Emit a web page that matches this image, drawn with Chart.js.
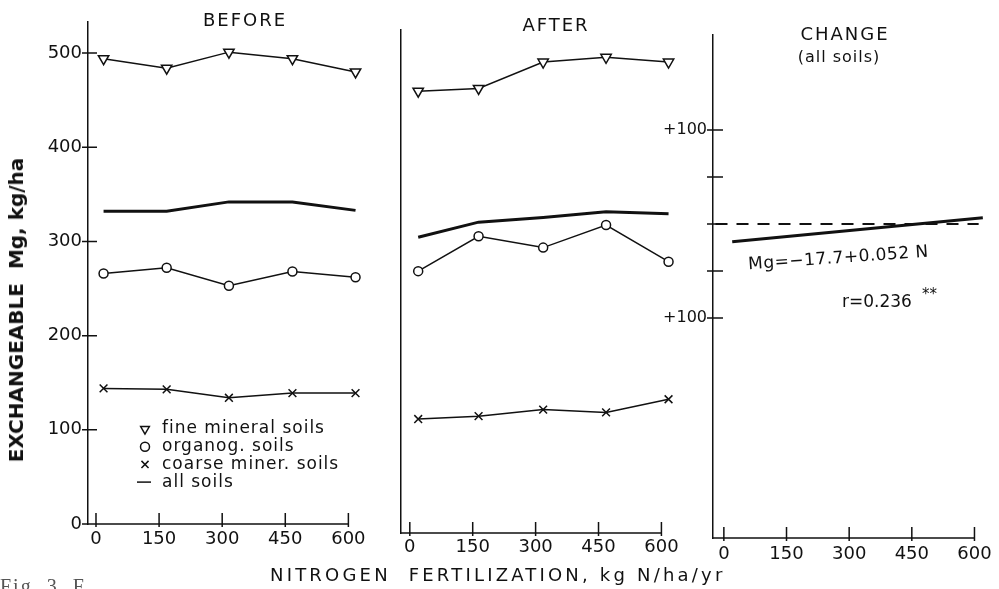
<!DOCTYPE html>
<html>
<head>
<meta charset="utf-8">
<script src="https://cdn.jsdelivr.net/npm/chart.js@4.4.0/dist/chart.umd.min.js"></script>
<style>
html, body { margin: 0; padding: 0; background: #fff; }
#fig { position: relative; width: 999px; height: 589px; overflow: hidden; background: #fff;
  font-family: "DejaVu Sans", sans-serif; color: #111; }
#fig canvas { position: absolute; left: 0; top: 0; }
.lbl { position: absolute; white-space: nowrap; line-height: 1; }
.c { transform: translate(-50%, -50%); }
</style>
</head>
<body>
<div id="fig">
	<canvas id="before" width="999" height="589"></canvas>
	<canvas id="after" width="999" height="589"></canvas>
	<canvas id="change" width="999" height="589"></canvas>

	<div class="lbl c" style="left:245px;top:20px;font-size:18px;letter-spacing:2px">BEFORE</div>
	<div class="lbl c" style="left:556px;top:25px;font-size:18px;letter-spacing:2px">AFTER</div>
	<div class="lbl c" style="left:845px;top:34px;font-size:18px;letter-spacing:2px">CHANGE</div>
	<div class="lbl c" style="left:839px;top:57px;font-size:16px;letter-spacing:1px">(all soils)</div>

	<div class="lbl" style="left:16px;top:310px;font-size:20px;font-weight:bold;transform:translate(-50%,-50%) rotate(-90deg)">EXCHANGEABLE&nbsp;&nbsp;Mg, kg/ha</div>
	<div class="lbl" style="left:270px;top:566px;font-size:18px;letter-spacing:3.2px">NITROGEN&nbsp;&nbsp;FERTILIZATION, kg N/ha/yr</div>

	<div class="lbl" style="left:748px;top:249px;font-size:17px;letter-spacing:0.5px;transform:rotate(-4deg)">Mg=−17.7+0.052 N</div>
	<div class="lbl" style="left:842px;top:293px;font-size:17px">r=0.236<span style="font-size:15px;margin-left:10px;position:relative;top:-8px">**</span></div>

	<div class="lbl" style="left:0px;top:576px;font-family:'Liberation Serif',serif;font-size:20px;letter-spacing:2px;color:#555">Fig. 3. F</div>
</div>

<script>
// nitrogen rates as plotted, kg N/ha/yr
const nBefore = [18, 168, 316, 467, 617]
const nAfter = [20, 164, 318, 468, 617]
const nTicks = [0, 150, 300, 450, 600]

// exchangeable Mg, kg/ha - before
const fineBefore = [494, 484, 501, 494, 480]
const organBefore = [266, 272, 253, 268, 262]
const coarseBefore = [144, 143, 134, 139, 139]
const allBefore = [332, 332, 342, 342, 333]

// exchangeable Mg, kg/ha - after
const fineAfter = [469, 472, 500, 505, 500]
const organAfter = [278, 315, 303, 327, 288]
const coarseAfter = [121, 124, 131, 128, 142]
const allAfter = [314, 330, 335, 341, 339]

// change, all soils: fitted line and zero reference
const nFit = [20, 620]
const changeFit = [-19, 6.5]
const nZero = [-20, 610]
const zeroLine = [0, 0]

const mgTicks = [0, 100, 200, 300, 400, 500]
const changeTicks = [-100, -50, 0, 50, 100]
const changeTickLabels = ['+100', '', '', '', '+100']
const legendLabels = ['fine mineral soils', 'organog. soils', 'coarse miner. soils', 'all soils']

const ink = '#111'

function pts(xs, ys) {
	return xs.map((x, i) => ({ x: x, y: ys[i] }))
}

function series(xs, ys, style) {
	return Object.assign({
		data: pts(xs, ys),
		borderColor: ink,
		borderWidth: 1.5,
		backgroundColor: '#fff',
		pointBorderColor: ink,
		pointBackgroundColor: '#fff',
		pointBorderWidth: 1.5,
		tension: 0,
		clip: false,
	}, style)
}

// x axis line stopping at the last tick, and tick marks crossing the axes
const crossTicks = {
	id: 'crossTicks',
	afterDraw(chart, args, o) {
		const { ctx, chartArea, scales } = chart
		const xs = scales.x
		const last = nTicks[nTicks.length - 1]
		ctx.save()
		ctx.strokeStyle = ink
		ctx.lineWidth = 1.5
		ctx.beginPath()
		ctx.moveTo(chartArea.left - 1, chartArea.bottom)
		ctx.lineTo(xs.getPixelForValue(last), chartArea.bottom)
		if (o.y) {
			scales.y.ticks.forEach(t => {
				const py = scales.y.getPixelForValue(t.value)
				ctx.moveTo(chartArea.left - o.y[0], py)
				ctx.lineTo(chartArea.left + o.y[1], py)
			})
		}
		xs.ticks.forEach(t => {
			const px = xs.getPixelForValue(t.value)
			ctx.moveTo(px, chartArea.bottom - 11)
			ctx.lineTo(px, chartArea.bottom + 3)
		})
		ctx.stroke()
		ctx.restore()
	}
}

// legend drawn inside the first panel
const insideLegend = {
	id: 'insideLegend',
	afterDraw(chart, args, o) {
		if (!o.labels) return
		const ctx = chart.ctx
		ctx.save()
		ctx.font = '17px "DejaVu Sans"'
		ctx.letterSpacing = '1px'
		ctx.textBaseline = 'middle'
		ctx.strokeStyle = ink
		o.labels.forEach((text, i) => {
			const ds = chart.data.datasets[i]
			const y = o.top + i * o.step
			ctx.lineWidth = 1.5
			if (ds.pointRadius) {
				ctx.fillStyle = '#fff'
				Chart.helpers.drawPoint(ctx, {
					pointStyle: ds.pointStyle,
					rotation: ds.pointRotation || 0,
					radius: o.radius[i],
					borderWidth: 1.5,
				}, o.x, y)
			} else {
				ctx.beginPath()
				ctx.moveTo(o.x - 8, y)
				ctx.lineTo(o.x + 6, y)
				ctx.stroke()
			}
			ctx.fillStyle = ink
			ctx.fillText(text, o.textX, y)
		})
		ctx.restore()
	}
}

function panel(id, datasets, o) {
	return new Chart(document.getElementById(id), {
		type: 'line',
		data: { datasets: datasets },
		options: {
			responsive: false,
			animation: false,
			devicePixelRatio: 1,
			layout: { padding: o.pad },
			plugins: {
				legend: { display: false },
				tooltip: { enabled: false },
				crossTicks: { y: o.yCross },
				insideLegend: o.legend || {},
			},
			scales: {
				x: {
					type: 'linear',
					min: o.xMin,
					max: 630,
					afterBuildTicks: s => { s.ticks = nTicks.map(v => ({ value: v })) },
					afterFit: s => { s.height = 40 },
					grid: { drawOnChartArea: false, drawTicks: false },
					border: { display: false },
					ticks: {
						color: ink, padding: o.xPad, autoSkip: false, maxRotation: 0,
						font: { family: 'DejaVu Sans', size: 18 },
					},
				},
				y: {
					type: 'linear',
					min: o.yMin,
					max: o.yMax,
					afterBuildTicks: s => { s.ticks = o.yTicks.map(v => ({ value: v })) },
					afterFit: s => { s.width = 60 },
					grid: { drawOnChartArea: false, drawTicks: false },
					border: { color: ink, width: 1.5 },
					ticks: {
						display: o.yLabels !== null,
						color: ink, padding: 6,
						font: { family: 'DejaVu Sans', size: o.yFont },
						callback: (v) => o.yLabels ? o.yLabels[o.yTicks.indexOf(v)] : String(v),
					},
				},
			},
		},
		plugins: [crossTicks, insideLegend],
	})
}

const triStyle = { pointStyle: 'triangle', pointRotation: 180, pointRadius: 6 }
const circStyle = { pointStyle: 'circle', pointRadius: 4.5 }
const crossStyle = { pointStyle: 'crossRot', pointRadius: 5.5 }
const allStyle = { pointRadius: 0, borderWidth: 3 }

panel('before', [
	series(nBefore, fineBefore, triStyle),
	series(nBefore, organBefore, circStyle),
	series(nBefore, coarseBefore, crossStyle),
	series(nBefore, allBefore, allStyle),
], {
	pad: { left: 28, right: 638, top: 22, bottom: 25 },
	xMin: -19, xPad: 5,
	yMin: 0, yMax: 533, yTicks: mgTicks, yLabels: mgTicks.map(String), yFont: 18,
	yCross: [6, 9],
	legend: { labels: legendLabels, x: 145, textX: 162, top: 429, step: 17.7, radius: [5, 4.5, 5] },
})

panel('after', [
	series(nAfter, fineAfter, triStyle),
	series(nAfter, organAfter, circStyle),
	series(nAfter, coarseAfter, crossStyle),
	series(nAfter, allAfter, allStyle),
], {
	pad: { left: 341, right: 325, top: 30, bottom: 16 },
	xMin: -21, xPad: 4,
	yMin: 0, yMax: 534, yTicks: mgTicks, yLabels: null, yFont: 18,
	yCross: null,
})

panel('change', [
	series(nZero, zeroLine, { pointRadius: 0, borderWidth: 1.8, borderDash: [12, 9] }),
	series(nFit, changeFit, allStyle),
], {
	pad: { left: 653, right: 12, top: 35, bottom: 11 },
	xMin: -26, xPad: 6,
	yMin: -334, yMax: 201, yTicks: changeTicks, yLabels: changeTickLabels, yFont: 16,
	yCross: [6, 10],
})
</script>
</body>
</html>
